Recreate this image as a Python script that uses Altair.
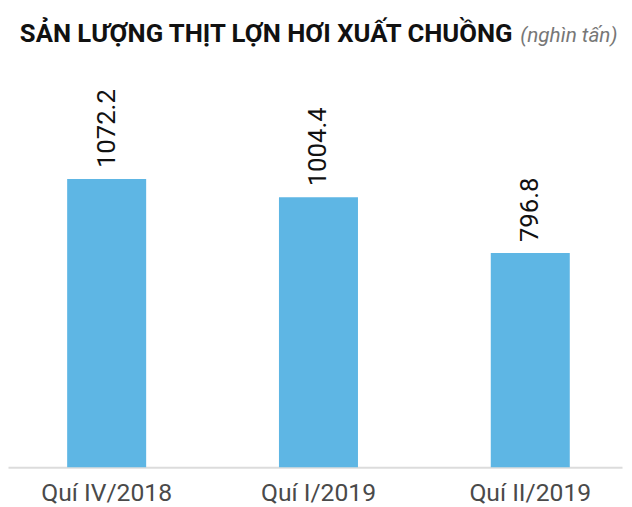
import altair as alt
import pandas as pd

categories = ["Quí IV/2018", "Quí I/2019", "Quí II/2019"]
values = [1072.2, 1004.4, 796.8]
value_labels = ["1072.2", "1004.4", "796.8"]
title_main = "SẢN LƯỢNG THỊT LỢN HƠI XUẤT CHUỒNG"
title_unit = "(nghìn tấn)"

df = pd.DataFrame({"cat": categories, "val": values, "lab": value_labels})

x_enc = alt.X(
    "cat:N",
    sort=categories,
    title=None,
    scale=alt.Scale(paddingInner=0.627, paddingOuter=0.263, align=0.531),
    axis=alt.Axis(
        labelAngle=0,
        labelFont="Roboto",
        labelFontSize=25,
        labelColor="#4a4a4a",
        labelPadding=14,
        ticks=False,
        domainColor="#dcdcdc",
        domainWidth=2,
    ),
)
y_enc = alt.Y(
    "val:Q",
    title=None,
    scale=alt.Scale(domain=[0, 1505], nice=False),
    axis=None,
)

base = alt.Chart(df)
bars = base.mark_bar(color="#5eb6e4").encode(x=x_enc, y=y_enc)
labels = base.mark_text(
    angle=270,
    align="left",
    baseline="middle",
    dx=11,
    font="Roboto",
    fontSize=26,
    color="#111111",
).encode(x=alt.X("cat:N", sort=categories), y="val:Q", text="lab:N")

t_main = alt.Chart(pd.DataFrame({"t": [title_main]})).mark_text(
    align="left", baseline="alphabetic", font="Roboto", fontWeight="bold",
    fontSize=26, color="#111111"
).encode(x=alt.value(12), y=alt.value(-21), text="t:N")

t_unit = alt.Chart(pd.DataFrame({"t": [title_unit]})).mark_text(
    align="left", baseline="alphabetic", font="Roboto", fontStyle="italic",
    fontSize=21, color="#777777"
).encode(x=alt.value(519), y=alt.value(-21), text="t:N")

chart = (
    alt.layer(bars, labels, t_main, t_unit)
    .properties(
        width=622,
        height=410,
        autosize=alt.AutoSizeParams(type="none"),
        padding={"left": 0, "top": 52, "right": 2, "bottom": 36},
    )
    .configure_view(stroke=None)
)

chart.save("out.html", embed_options={"renderer": "svg", "actions": False})
